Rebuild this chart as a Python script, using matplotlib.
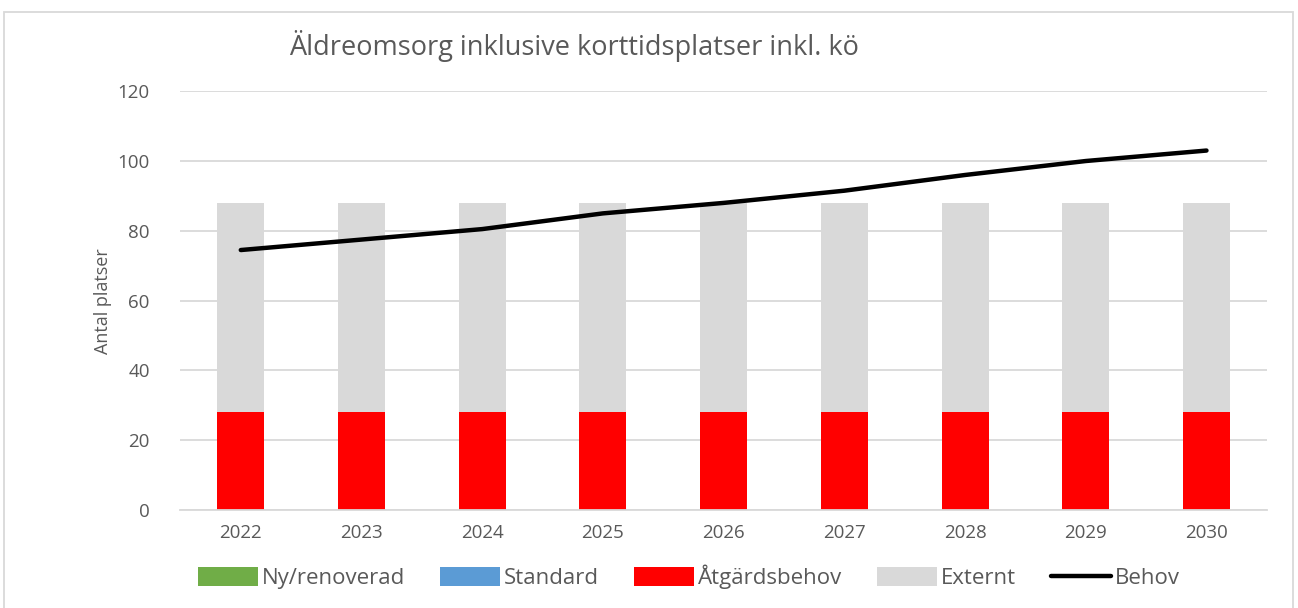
import numpy as np
import matplotlib
matplotlib.use("Agg")
import matplotlib.pyplot as plt
from matplotlib.patches import Rectangle

years = ["2022", "2023", "2024", "2025", "2026", "2027", "2028", "2029", "2030"]
ny_renoverad = [0, 0, 0, 0, 0, 0, 0, 0, 0]
standard = [0, 0, 0, 0, 0, 0, 0, 0, 0]
atgardsbehov = [28, 28, 28, 28, 28, 28, 28, 28, 28]
externt = [60, 60, 60, 60, 60, 60, 60, 60, 60]
behov = [74.5, 77.5, 80.5, 85, 88, 91.5, 96, 100, 103]

plt.rcParams["font.family"] = ["Open Sans", "DejaVu Sans"]
TXT = "#595959"

fig = plt.figure(figsize=(12.98, 6.08), dpi=100, facecolor="w")
ax = fig.add_axes([0.139, 0.161, 0.837, 0.689])

x = np.arange(len(years))
w = 0.39
b1 = np.array(ny_renoverad, float)
b2 = b1 + np.array(standard, float)
b3 = b2 + np.array(atgardsbehov, float)
h1 = ax.bar(x, ny_renoverad, w, color="#70AD47", label="Ny/renoverad", zorder=2)
h2 = ax.bar(x, standard, w, bottom=b1, color="#5B9BD5", label="Standard", zorder=2)
h3 = ax.bar(x, atgardsbehov, w, bottom=b2, color="#FF0000", label="Åtgärdsbehov", zorder=2)
h4 = ax.bar(x, externt, w, bottom=b3, color="#D9D9D9", label="Externt", zorder=2)
h5, = ax.plot(x, behov, color="black", lw=3.2, solid_capstyle="round", label="Behov", zorder=3)

ax.set_xlim(-0.5, len(years) - 0.5)
ax.set_ylim(0, 120)
ax.set_yticks(range(0, 121, 20))
ax.set_xticks(x)
ax.set_xticklabels(years)
ax.grid(axis="y", color="#D9D9D9", lw=1.3, zorder=0)
for s in ["top", "right", "left"]:
    ax.spines[s].set_visible(False)
ax.spines["bottom"].set_color("#D9D9D9")
ax.spines["bottom"].set_linewidth(1.3)
ax.tick_params(length=0, labelsize=13.5, labelcolor=TXT, pad=10)
ax.tick_params(axis="y", pad=22)
ax.set_ylabel("Antal platser", fontsize=13, color=TXT, labelpad=4)

fig.text(0.223, 0.925, "Äldreomsorg inklusive korttidsplatser inkl. kö",
         fontsize=19.5, color=TXT, va="center", ha="left")

ax.legend([h1, h2, h3, h4, h5],
          ["Ny/renoverad", "Standard", "Åtgärdsbehov", "Externt", "Behov"],
          loc="center", bbox_to_anchor=(0.468, -0.16), ncol=5, frameon=False,
          fontsize=16, labelcolor=TXT, handlelength=2.7, handleheight=0.9,
          handletextpad=0.15, columnspacing=1.6)

fig.patches.append(Rectangle((4 / 1298, -0.01), 1289 / 1298, 1 - 12 / 608 + 0.01,
                             transform=fig.transFigure, fill=False,
                             edgecolor="#D9D9D9", lw=1.3))

fig.savefig("out.png", dpi=100)
